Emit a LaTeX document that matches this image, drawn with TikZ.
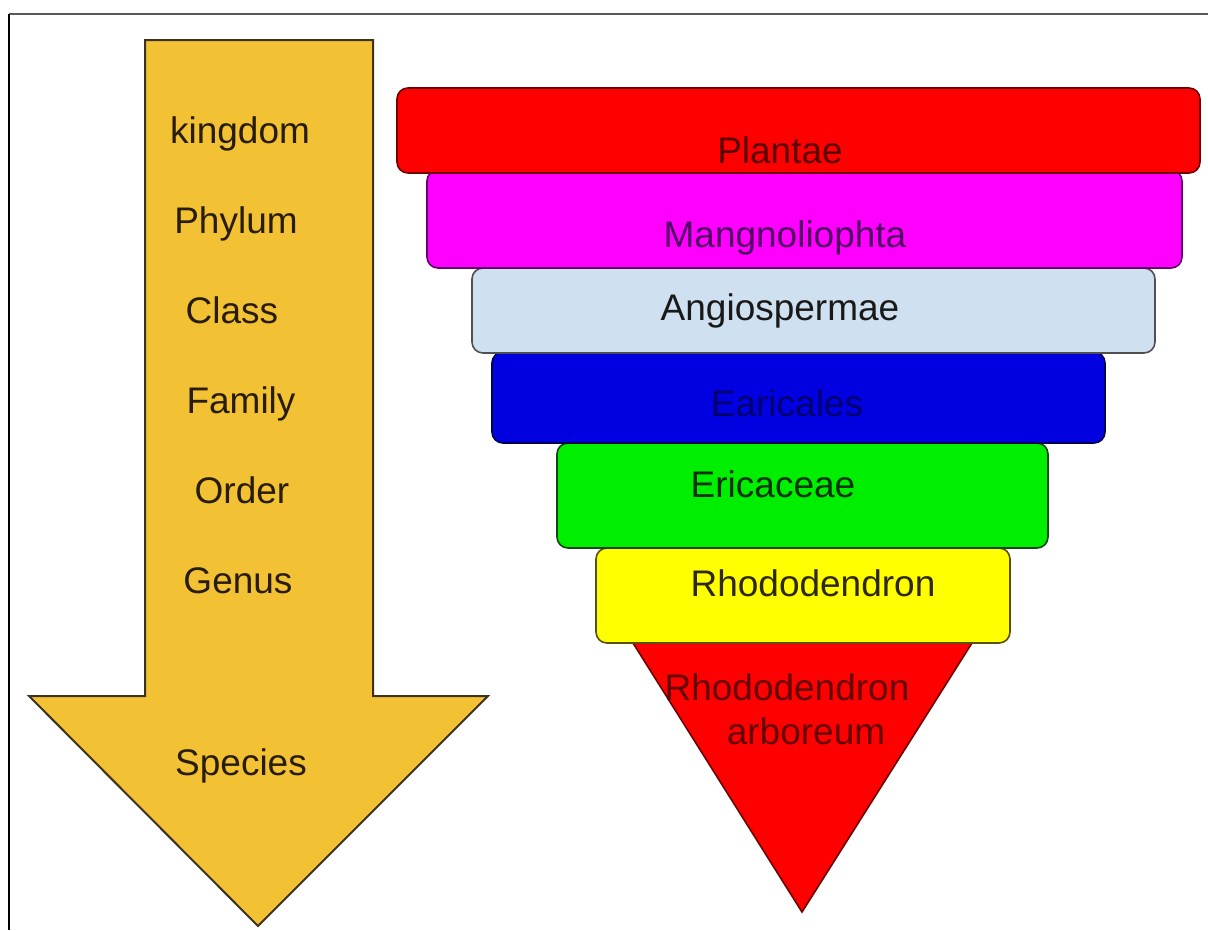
\documentclass[tikz,border=0pt]{standalone}
\usepackage{fontspec}
\setmainfont{Liberation Sans}
\begin{document}
\begin{tikzpicture}[x=1pt,y=-1pt,
  lbl/.style={font=\fontsize{37}{44}\selectfont, anchor=base, inner sep=0pt},
  band/.style={rounded corners=11pt, line width=1.6pt}]
\useasboundingbox (0,0) rectangle (1208,930);
\fill[white] (0,0) rectangle (1208,930);
% frame
\draw[line width=2pt, gray!70!black] (9,14) -- (1208,14);
\draw[line width=2.5pt, black] (9,14) -- (9,930);

% big arrow
\draw[fill={rgb,255:red,242;green,194;blue,52}, draw={rgb,255:red,60;green,50;blue,30}, line width=2pt, line join=miter]
  (145,40) -- (373,40) -- (373,696) -- (488,696) -- (258,926) -- (29,696) -- (145,696) -- cycle;
\begin{scope}[every node/.style={lbl, text={rgb,255:red,40;green,28;blue,5}}]
\node (k) at (240,143) {kingdom};
\node (p) at (236,233) {Phylum};
\node (c) at (232,323) {Class};
\node (f) at (241,413) {Family};
\node (o) at (242,503) {Order};
\node (g) at (238,593) {Genus};
\node (s) at (241,775) {Species};
\end{scope}

% triangle
\draw[fill={rgb,255:red,255;green,0;blue,0}, draw={rgb,255:red,110;green,0;blue,0}, line width=1.6pt, line join=miter]
  (633,643) -- (972,643) -- (802,912) -- cycle;
% yellow
\draw[band, fill={rgb,255:red,255;green,255;blue,0}, draw={rgb,255:red,90;green,80;blue,0}] (596,548) rectangle (1010,643);
% green
\draw[band, fill={rgb,255:red,0;green,238;blue,0}, draw={rgb,255:red,20;green,70;blue,20}] (557,443) rectangle (1048,548);
% blue
\draw[band, fill={rgb,255:red,0;green,0;blue,225}, draw={rgb,255:red,0;green,0;blue,80}] (492,352) rectangle (1105,443);
% light blue
\draw[band, fill={rgb,255:red,207;green,224;blue,240}, draw={rgb,255:red,80;green,80;blue,80}] (472,268) rectangle (1155,353);
% magenta
\draw[band, fill={rgb,255:red,255;green,0;blue,255}, draw={rgb,255:red,100;green,0;blue,110}] (427,170) rectangle (1182,268);
% red
\draw[band, fill={rgb,255:red,255;green,0;blue,0}, draw={rgb,255:red,110;green,0;blue,0}] (397,88) rectangle (1200,173);

\node[lbl, text={rgb,255:red,90;green,0;blue,0}] (t1) at (780,163) {Plantae};
\node[lbl, text={rgb,255:red,80;green,0;blue,100}] (t2) at (785,247) {Mangnoliophta};
\node[lbl, text={rgb,255:red,25;green,25;blue,25}] (t3) at (780,320) {Angiospermae};
\node[lbl, text={rgb,255:red,0;green,0;blue,110}] (t4) at (787,416) {Earicales};
\node[lbl, text={rgb,255:red,0;green,50;blue,0}] (t5) at (773,497) {Ericaceae};
\node[lbl, text={rgb,255:red,45;green,40;blue,0}] (t6) at (813,596) {Rhododendron};
\node[lbl, text={rgb,255:red,100;green,0;blue,0}] (t7) at (787,700) {Rhododendron};
\node[lbl, text={rgb,255:red,100;green,0;blue,0}] (t8) at (806,744) {arboreum};
\end{tikzpicture}
\end{document}
